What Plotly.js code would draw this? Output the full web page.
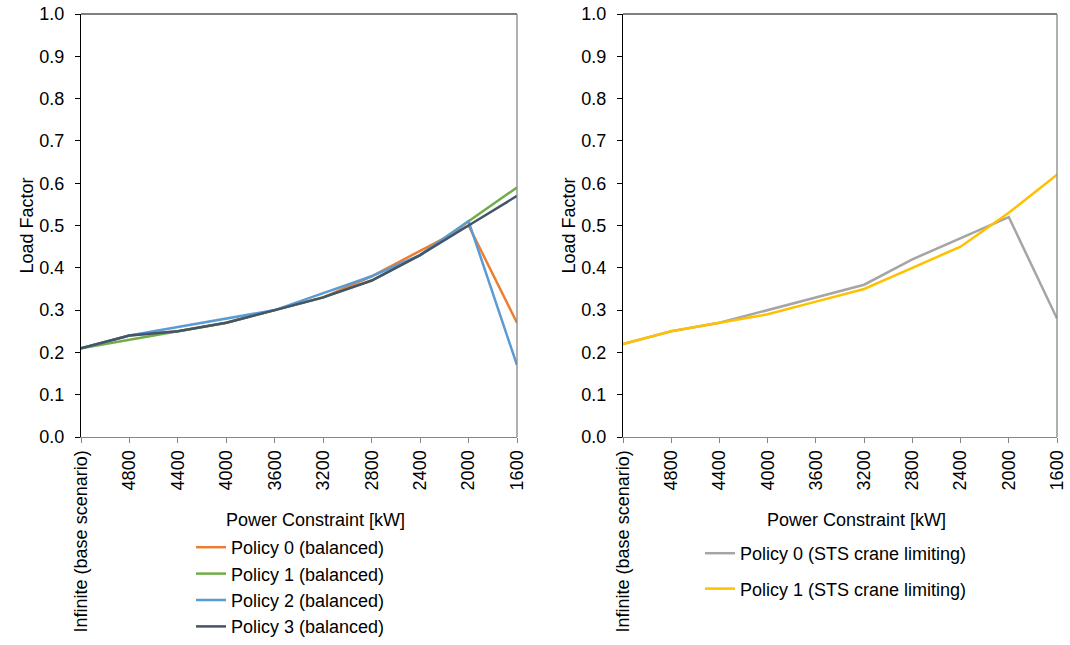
<!DOCTYPE html>
<html>
<head>
<meta charset="utf-8">
<script src="https://cdn.plot.ly/plotly-3.0.1.min.js"></script>
<style>html,body{margin:0;padding:0;background:#fff;}#chart{width:1070px;height:645px;}</style>
</head>
<body>
<div id="chart"></div>
<script>
const categories = ["Infinite (base scenario)","4800","4400","4000","3600","3200","2800","2400","2000","1600"];

const policy0Balanced = [0.21,0.24,0.25,0.27,0.30,0.33,0.38,0.44,0.50,0.27];
const policy1Balanced = [0.21,0.23,0.25,0.27,0.30,0.33,0.37,0.43,0.51,0.59];
const policy2Balanced = [0.21,0.24,0.26,0.28,0.30,0.34,0.38,0.43,0.51,0.17];
const policy3Balanced = [0.21,0.24,0.25,0.27,0.30,0.33,0.37,0.43,0.50,0.57];

const policy0STS = [0.22,0.25,0.27,0.30,0.33,0.36,0.42,0.47,0.52,0.28];
const policy1STS = [0.22,0.25,0.27,0.29,0.32,0.35,0.40,0.45,0.53,0.62];

const yTickVals = [0,0.1,0.2,0.3,0.4,0.5,0.6,0.7,0.8,0.9,1.0];

const FONT = "Liberation Sans, Arial, Helvetica, sans-serif";
const FS = 18;

function line(name, y, color, xa, ya, leg, grp) {
  return {type:'scatter', mode:'lines', name:name, x:categories, y:y,
    xaxis:xa, yaxis:ya, legend:leg, legendgroup:grp,
    line:{color:color, width:2.5}, hoverinfo:'x+y+name'};
}

const traces = [
  line("Policy 0 (balanced)", policy0Balanced, "#ED7D31", 'x','y','legend','a0'),
  line("Policy 1 (balanced)", policy1Balanced, "#70AD47", 'x','y','legend','a1'),
  line("Policy 2 (balanced)", policy2Balanced, "#5B9BD5", 'x','y','legend','a2'),
  line("Policy 3 (balanced)", policy3Balanced, "#44546A", 'x','y','legend','a3'),
  line("Policy 0 (STS crane limiting)", policy0STS, "#A5A5A5", 'x2','y2','legend2','b0'),
  line("Policy 1 (STS crane limiting)", policy1STS, "#FFC000", 'x2','y2','legend2','b1')
];

function xax(domain, anchor) {
  return {domain:domain, anchor:anchor, type:'category', range:[0,9],
    showgrid:false, zeroline:false, showline:true, linecolor:'#868686', linewidth:1.3,
    ticks:'outside', ticklen:5, tickcolor:'#868686', tickwidth:1.3,
    tickangle:-90, tickfont:{family:FONT, size:FS, color:'#000'}, automargin:false};
}
function yax(anchor) {
  return {domain:[1-437/645, 1-14/645], anchor:anchor, range:[0,1],
    tickvals:yTickVals, tickformat:'.1f',
    showgrid:false, zeroline:false, showline:true, linecolor:'#000', linewidth:1.2,
    ticks:'outside', ticklen:5, tickcolor:'#000', tickwidth:1, ticklabelstandoff:7,
    tickfont:{family:FONT, size:FS, color:'#000'}, automargin:false,
    title:{text:'Load Factor', font:{family:FONT, size:FS, color:'#000'}, standoff:0}};
}

const leftDom = [81/1070, 517/1070];
const rightDom = [623/1070, 1057/1070];

const layout = {
  width:1070, height:645,
  margin:{l:0, r:0, t:0, b:0},
  paper_bgcolor:'#fff', plot_bgcolor:'#fff',
  font:{family:FONT, size:FS, color:'#000'},
  showlegend:true,
  xaxis: xax(leftDom, 'y'),
  yaxis: yax('x'),
  xaxis2: xax(rightDom, 'y2'),
  yaxis2: yax('x2'),
  legend:{x:191/1070, xanchor:'left', y:0, yanchor:'bottom',
    bgcolor:'rgba(0,0,0,0)', font:{family:FONT, size:FS, color:'#000'},
    traceorder:'grouped', tracegroupgap:0, itemwidth:30},
  legend2:{x:700/1070, xanchor:'left', y:1-535/645, yanchor:'top',
    bgcolor:'rgba(0,0,0,0)', font:{family:FONT, size:FS, color:'#000'},
    traceorder:'grouped', tracegroupgap:9, itemwidth:30},
  annotations:[
    {text:'Power Constraint [kW]', xref:'paper', yref:'paper', x:315/1070, y:1-520/645,
     xanchor:'center', yanchor:'middle', showarrow:false, font:{family:FONT, size:FS, color:'#000'}},
    {text:'Power Constraint [kW]', xref:'paper', yref:'paper', x:856/1070, y:1-520/645,
     xanchor:'center', yanchor:'middle', showarrow:false, font:{family:FONT, size:FS, color:'#000'}}
  ],
  shapes:[
    {type:'line', xref:'x domain', yref:'y domain', x0:0, x1:1, y0:1, y1:1, line:{color:'#000', width:1.2}},
    {type:'line', xref:'x domain', yref:'y domain', x0:1, x1:1, y0:0, y1:1, line:{color:'#868686', width:1.3}},
    {type:'line', xref:'x2 domain', yref:'y2 domain', x0:0, x1:1, y0:1, y1:1, line:{color:'#000', width:1.2}},
    {type:'line', xref:'x2 domain', yref:'y2 domain', x0:1, x1:1, y0:0, y1:1, line:{color:'#868686', width:1.3}}
  ]
};

Plotly.newPlot('chart', traces, layout, {displayModeBar:false});
</script>
</body>
</html>
